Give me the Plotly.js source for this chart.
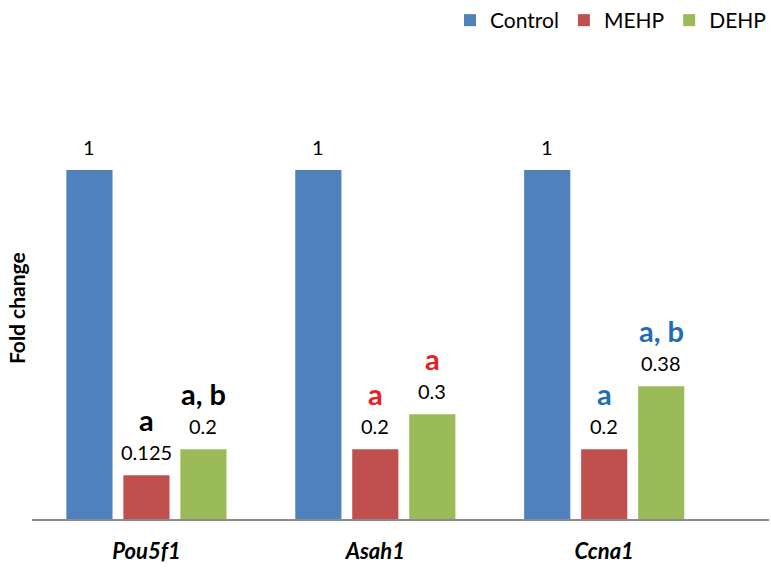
<!DOCTYPE html>
<html>
<head>
<meta charset="utf-8">
<script src="https://cdn.plot.ly/plotly-3.0.1.min.js"></script>
<style>html,body{margin:0;padding:0;background:#fff;}#chart{width:771px;height:579px;}</style>
</head>
<body>
<div id="chart"></div>
<script>
const genes = ["Pou5f1", "Asah1", "Ccna1"];
const seriesNames = ["Control", "MEHP", "DEHP"];
const controlValues = [1, 1, 1];
const mehpValues = [0.125, 0.2, 0.2];
const dehpValues = [0.2, 0.3, 0.38];
const sigControl = ["", "", ""];
const sigMEHP = ["a", "a", "a"];
const sigDEHP = ["a, b", "a", "a, b"];
const sigColors = ["#000000", "#e8201e", "#1f6db5"];
const barColors = ["#4f81bd", "#c0504d", "#9bbb59"];

const FONT = "Lato, 'Open Sans', sans-serif";
const allValues = [controlValues, mehpValues, dehpValues];
const allSig = [sigControl, sigMEHP, sigDEHP];

const traces = allValues.map((vals, j) => ({
  type: "bar",
  name: seriesNames[j],
  x: genes,
  y: vals,
  marker: {color: barColors[j]},
  hoverinfo: "skip"
}));

const slot = 57;
const annotations = [];
allValues.forEach((vals, j) => {
  vals.forEach((v, i) => {
    annotations.push({
      x: genes[i], y: v, xref: "x", yref: "y",
      xshift: (j - 1) * slot, yshift: 9, yanchor: "bottom",
      text: String(v), showarrow: false,
      font: {family: FONT, size: 20, color: "#000"}
    });
    const s = allSig[j][i];
    if (s) {
      annotations.push({
        x: genes[i], y: v, xref: "x", yref: "y",
        xshift: (j - 1) * slot, yshift: 36, yanchor: "bottom",
        text: "<b>" + s + "</b>", showarrow: false,
        font: {family: FONT, size: 29, color: sigColors[i]}
      });
    }
  });
});
annotations.push({
  xref: "paper", yref: "paper", x: -0.02, y: 0.46,
  xanchor: "center", yanchor: "middle", textangle: -90,
  text: "<b>Fold change</b>", showarrow: false,
  font: {family: FONT, size: 21, color: "#000"}
});

const layout = {
  width: 771, height: 579,
  margin: {l: 32, r: 2, t: 60, b: 60},
  paper_bgcolor: "#fff", plot_bgcolor: "#fff",
  barmode: "group", bargap: 0.253, bargroupgap: 0.19,
  font: {family: FONT, color: "#000"},
  showlegend: true,
  legend: {
    orientation: "h", x: 1, xref: "container", xanchor: "right",
    y: 1, yref: "container", yanchor: "top",
    font: {family: FONT, size: 21, color: "#000"}, itemclick: false, traceorder: "normal"
  },
  xaxis: {
    type: "category", range: [-0.5, 2.72],
    showline: true, linecolor: "#8c8c8c", linewidth: 2,
    showgrid: false, zeroline: false, ticks: "",
    ticklabelstandoff: 12,
    tickfont: {family: FONT, size: 22, color: "#000", weight: "bold", style: "italic"}
  },
  yaxis: {
    range: [0, 1.315], showticklabels: false, showgrid: false,
    zeroline: false, showline: false, ticks: ""
  },
  annotations: annotations
};

Plotly.newPlot("chart", traces, layout, {displayModeBar: false, staticPlot: true});
</script>
</body>
</html>
